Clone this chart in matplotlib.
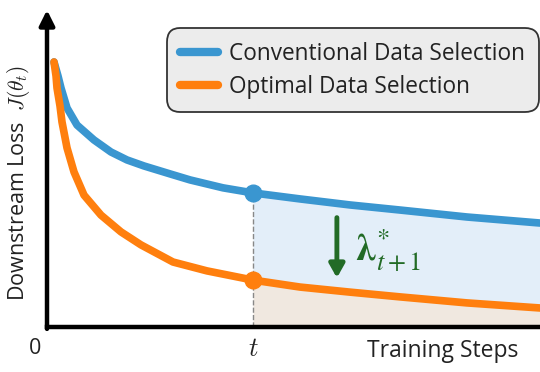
import numpy as np
import matplotlib
matplotlib.use("Agg")
import matplotlib.pyplot as plt

plt.rcParams['font.family'] = ['Open Sans', 'DejaVu Sans']
plt.rcParams['mathtext.fontset'] = 'cm'

# training progress (percent of the x range) and loss values
steps_conventional = np.array([1.42, 2.23, 2.84, 4.06, 6.09, 9.53, 12.98, 16.23, 19.68, 24.95,
                               29.01, 35.70, 41.78, 51.32, 61.46, 71.60, 85.19, 100])
loss_conventional = np.array([83.6, 79.2, 75.4, 69.1, 63.7, 59.0, 55.2, 52.7, 50.8, 48.3,
                              46.4, 43.9, 42.3, 40.4, 38.5, 36.9, 34.7, 32.8])
steps_optimal = np.array([1.42, 1.83, 2.03, 2.64, 3.04, 4.06, 5.48, 7.51, 10.95, 15.01,
                          19.07, 25.56, 32.45, 41.78, 51.32, 61.46, 71.60, 85.19, 100])
loss_optimal = np.array([83.6, 79.2, 75.4, 69.7, 64.7, 56.5, 48.9, 41.6, 35.3, 30.0,
                         25.9, 20.5, 17.7, 14.8, 12.6, 11.0, 9.5, 7.6, 6.0])
t_step = 41.78
labels = ['Conventional Data Selection', 'Optimal Data Selection']

blue = '#3a96d0'
orange = '#ff7f0e'
green = '#226b26'

fig = plt.figure(figsize=(5.4, 3.72), dpi=100)
ax = fig.add_axes([47 / 540, 45 / 372, 493 / 540, 317 / 372])
ax.set_xlim(0, 100)
ax.set_ylim(0, 100)

# shaded regions after step t (both curves share the same steps there)
tail_c = steps_conventional >= t_step
tail_o = steps_optimal >= t_step
tail_steps = steps_optimal[tail_o]
ax.fill_between(tail_steps, loss_optimal[tail_o], loss_conventional[tail_c],
                color='#e3eef9', lw=0, zorder=1)
ax.fill_between(tail_steps, 0, loss_optimal[tail_o], color='#f0e8e0', lw=0, zorder=1)

ax.plot(steps_conventional, loss_conventional, color=blue, lw=5.5, solid_capstyle='round',
        solid_joinstyle='round', label=labels[0], zorder=3)
ax.plot(steps_optimal, loss_optimal, color=orange, lw=5.5, solid_capstyle='round',
        solid_joinstyle='round', label=labels[1], zorder=3)

y_blue_t = loss_conventional[steps_conventional == t_step][0]
y_orange_t = loss_optimal[steps_optimal == t_step][0]
ax.plot([t_step, t_step], [0, y_blue_t], ls='--', color='#888888', lw=1.0, zorder=2)
ax.plot(t_step, y_blue_t, 'o', color=blue, ms=12, zorder=4)
ax.plot(t_step, y_orange_t, 'o', color=orange, ms=12, zorder=4)

# axes: thick black bottom line, y axis as an arrow
for s in ['top', 'right', 'left']:
    ax.spines[s].set_visible(False)
ax.spines['bottom'].set_linewidth(3.2)
ax.spines['bottom'].set_color('black')
ax.set_xticks([])
ax.set_yticks([])
ax.patch.set_visible(False)
ax.annotate('', xy=(0, 1.0), xytext=(0, -0.006), xycoords='axes fraction',
            arrowprops=dict(arrowstyle='-|>,head_length=0.9,head_width=0.45',
                            color='black', lw=3.2, shrinkA=0, shrinkB=0))

leg = ax.legend(loc='upper right', bbox_to_anchor=(0.998, 0.943), fontsize=16.3,
                handlelength=1.65, handletextpad=0.52, borderpad=0.6, labelspacing=0.4,
                borderaxespad=0.0, fancybox=True, framealpha=1,
                facecolor='#ececec', edgecolor='#333333')
leg.get_frame().set_linewidth(1.3)
leg.get_frame().set_boxstyle('round', pad=0, rounding_size=0.6)
for line in leg.get_lines():
    line.set_linewidth(6)
for txt in leg.get_texts():
    txt.set_color('#222222')

# green arrow and lambda label
ax.annotate('', xy=(58.8, 15.5), xytext=(58.8, 34.5),
            arrowprops=dict(arrowstyle='-|>,head_length=0.8,head_width=0.45',
                            color=green, lw=3.5, shrinkA=0, shrinkB=0))
ax.text(62.5, 24, r'$\boldsymbol{\lambda}^{*}_{t+1}$', color=green, fontsize=27,
        ha='left', va='center', math_fontfamily='stix')

fig.text(35 / 540, 1 - 348 / 372, '0', fontsize=15.5, ha='center', va='center', color='#222222')
fig.text(253 / 540, 1 - 349 / 372, r'$t$', fontsize=19, ha='center', va='center', color='#222222')
fig.text(443 / 540, 1 - 351 / 372, 'Training Steps', fontsize=16.5, ha='center', va='center',
         color='#222222')
fig.text(19 / 540, 1 - 183 / 372, r'Downstream Loss  $J(\theta_t)$', fontsize=15.5,
         rotation=90, ha='center', va='center', color='#222222')

fig.savefig('out.png', dpi=100)
